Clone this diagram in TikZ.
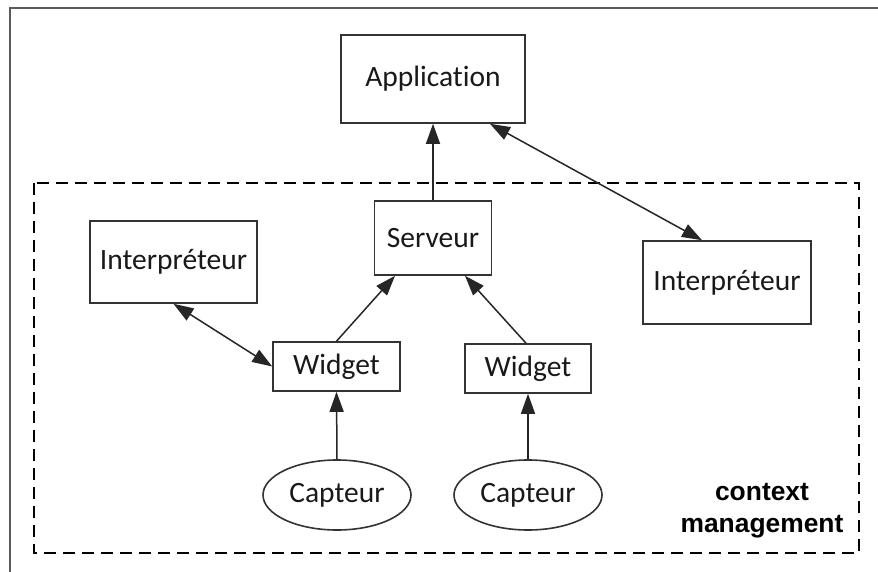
\documentclass[tikz,border=0pt]{standalone}
\usepackage{fontspec}
\setmainfont{Carlito}[Ligatures=CommonOff]
\newfontfamily\labelfont{Liberation Sans}
\usetikzlibrary{arrows.meta,shapes.geometric}
\definecolor{edgecol}{HTML}{333333}
\definecolor{framecol}{HTML}{5A5A5A}
\tikzset{
  box/.style={draw=edgecol, line width=1.6pt, rectangle, inner sep=0pt, fill=white,
    font=\fontsize{29.5}{34}\selectfont, text=black!90},
  oval/.style={draw=edgecol, line width=1.6pt, ellipse, inner sep=0pt,
    minimum width=148pt, minimum height=70pt,
    font=\fontsize{29.5}{34}\selectfont, text=black!90},
  conn/.style={draw=black!85, line width=1.5pt, -{Triangle[length=20pt,width=14pt]}},
  biconn/.style={draw=black!85, line width=1.5pt, {Triangle[length=20pt,width=14pt]}-{Triangle[length=20pt,width=14pt]}},
  zone/.style={draw=black, line width=2.6pt, dash pattern=on 12pt off 7pt},
  tag/.style={font=\labelfont\bfseries\fontsize{26.4}{32}\selectfont, align=center, text=black}
}
\begin{document}
\begin{tikzpicture}[x=1pt,y=-1pt]
\useasboundingbox (0,0) rectangle (878,572);
\fill[white] (0,0) rectangle (878,572);
% outer frame (cropped at right and bottom)
\draw[framecol, line width=2.6pt] (10,590) -- (10,8) -- (890,8);
% context management zone
\draw[zone] (34,183) rectangle (859,553);
\node[tag] (ctx) at (762,511) {context\\management};
% nodes
\node[box, minimum width=184pt, minimum height=88pt] (app) at (433,79) {Application};
\node[box, minimum width=117pt, minimum height=74pt] (ser) at (433,238) {Serveur};
\node[box, minimum width=167pt, minimum height=82pt] (int1) at (173.5,262) {Interpréteur};
\node[box, minimum width=168pt, minimum height=83pt] (int2) at (727,282.5) {Interpréteur};
\node[box, minimum width=127pt, minimum height=49pt] (wid1) at (336.5,366.5) {Widget};
\node[box, minimum width=126pt, minimum height=49pt] (wid2) at (528,368.5) {Widget};
\node[oval] (cap1) at (337,495) {Capteur};
\node[oval] (cap2) at (528,495) {Capteur};
% connectors
\draw[conn] (ser.north) -- (app.south);
\draw[biconn] ([xshift=57pt]app.south) -- ([xshift=-25pt]int2.north);
\draw[biconn] (int1.south) -- (wid1.west);
\draw[conn] (wid1.north) -- ([xshift=-38pt]ser.south);
\draw[conn] ([xshift=-2pt]wid2.north) -- ([xshift=32pt]ser.south);
\draw[conn] (cap1.north) -- (wid1.south);
\draw[conn] (cap2.north) -- (wid2.south);
\end{tikzpicture}
\end{document}
